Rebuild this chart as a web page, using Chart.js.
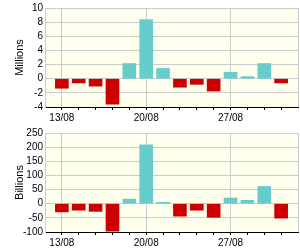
<!DOCTYPE html>
<html><head><meta charset="utf-8">
<script src="https://cdn.jsdelivr.net/npm/chart.js@4/dist/chart.umd.min.js"></script>
<style>
html,body{margin:0;padding:0;background:#fff;}
#wrap{position:relative;width:300px;height:250px;}
canvas{position:absolute;left:0;}
#c1{top:0;} #c2{top:125px;}
</style></head><body>
<div id="wrap"><canvas id="c1" width="300" height="125"></canvas><canvas id="c2" width="300" height="125"></canvas></div>
<script>
const dates = ['10/08','13/08','14/08','15/08','16/08','17/08','20/08','21/08','22/08','23/08','24/08','27/08','28/08','29/08','30/08','31/08'];
const shownDates = ['13/08','20/08','27/08'];
const millions = [null,-1.35,-0.6,-1.05,-3.6,2.15,8.35,1.45,-1.2,-0.8,-1.75,0.9,0.3,2.15,-0.6,null];
const billions = [null,-29,-23,-27,-97,16,208,5,-44,-23,-48,20,12,61,-51,null];
const millionsTicks = {min:-4,max:10,step:2};
const billionsTicks = {min:-100,max:250,step:50};

const UP='#66CCCC', DOWN='#CC0000', GRID='#CCCCCC', BG='#FFFFEE';
const FONT="'Liberation Sans',Arial,sans-serif";

const bgPlugin = {id:'bg', beforeDraw(chart){const {ctx,chartArea:a}=chart;ctx.save();ctx.fillStyle=BG;ctx.fillRect(a.left,a.top,a.right-a.left,a.bottom-a.top);ctx.restore();}};

function make(id, data, yt, title){
  new Chart(document.getElementById(id), {
    type:'bar',
    data:{labels:dates, datasets:[{data:data, backgroundColor:c=>(c.raw>=0?UP:DOWN), borderWidth:0, barThickness:13}]},
    plugins:[bgPlugin],
    options:{
      responsive:false, animation:false, devicePixelRatio:1,
      layout:{padding:{top:7,right:1,left:0,bottom:0}},
      plugins:{legend:{display:false},tooltip:{enabled:false}},
      scales:{
        x:{type:'category', offset:false,
          grid:{offset:false, color:c=>{const l=dates[c.index];return (shownDates.includes(l)||c.index===dates.length-1)?GRID:'rgba(0,0,0,0)';},
                tickColor:c=>(c.index===0||c.index===dates.length-1)?'rgba(0,0,0,0)':'#000', tickLength:3, lineWidth:1},
          border:{display:true,color:'#000',width:1},
          ticks:{autoSkip:false,maxRotation:0,minRotation:0,padding:2,color:'#000',font:{family:FONT,size:10},
                 callback:(v,i)=>shownDates.includes(dates[i])?dates[i]:''},
          afterFit:s=>{s.height=18;}
        },
        y:{min:yt.min,max:yt.max,
          ticks:{stepSize:yt.step,autoSkip:false,padding:2,color:'#000',font:{family:FONT,size:10}},
          grid:{color:GRID,drawTicks:false,lineWidth:1},
          border:{display:true,color:GRID},
          title:{display:true,text:title,color:'#000',font:{family:FONT,size:11},padding:{top:13,bottom:0}},
          afterFit:s=>{s.width=45;}
        }
      }
    }
  });
}
make('c1', millions, millionsTicks, 'Millions');
make('c2', billions, billionsTicks, 'Billions');
</script></body></html>
